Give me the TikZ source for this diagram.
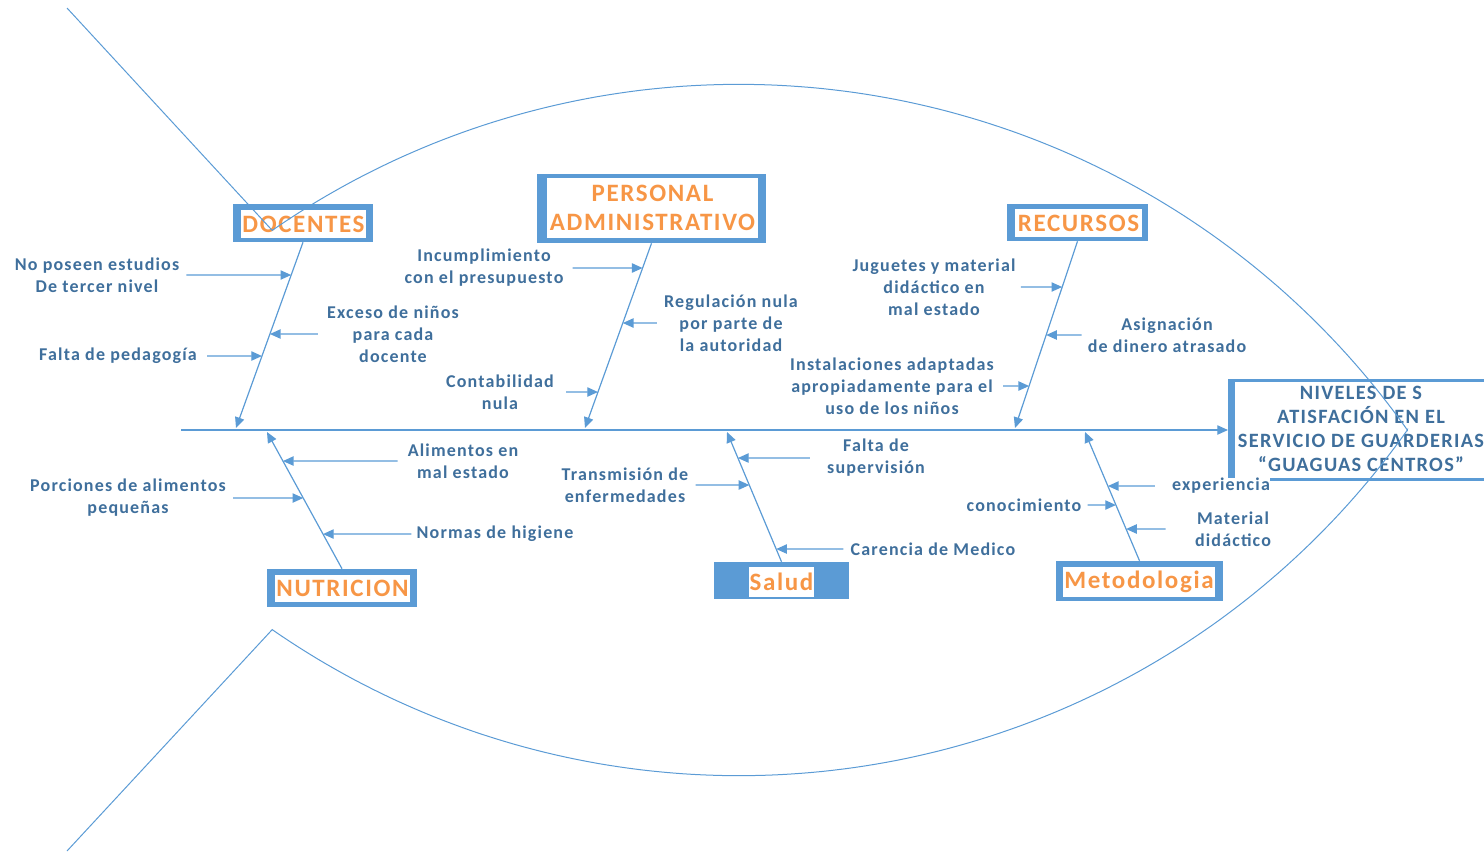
\documentclass[tikz,border=0pt]{standalone}
\usepackage{fontspec}
\newfontfamily\lblfont{Carlito}[LetterSpace=6.5]
\usetikzlibrary{arrows.meta}
\definecolor{lineblue}{HTML}{5B9BD5}
\definecolor{txtblue}{HTML}{3F6F9C}
\definecolor{ttlorange}{HTML}{F79646}
\begin{document}
\begin{tikzpicture}[x=0.75pt,y=-0.75pt,
  lbl/.style={font=\lblfont\bfseries\fontsize{13.5pt}{16.5pt}\selectfont,
    text=txtblue, align=center, fill=white, inner sep=0pt},
  headtxt/.style={font=\lblfont\bfseries\fontsize{15.25pt}{18pt}\selectfont,
    text=txtblue, align=center, inner sep=0pt},
  ttl/.style={font=\lblfont\bfseries\fontsize{18.75pt}{21.75pt}\selectfont,
    text=ttlorange, align=center, fill=white, inner sep=0pt},
  frame/.style={fill=lineblue, inner sep=0pt},
  box/.style n args={2}{minimum width=#1*0.75pt, minimum height=#2*0.75pt},
  bone/.style={draw=lineblue, line width=0.9pt, -{Triangle[length=8pt,width=7pt]}},
  cause/.style={draw=lineblue, line width=0.9pt, -{Triangle[length=8pt,width=7pt]}},
  spine/.style={draw=lineblue, line width=0.8pt, -{Triangle[length=8pt,width=7pt]}},
  fish/.style={draw=lineblue, line width=0.75pt}]
\useasboundingbox (0,0) rectangle (1484,851);
\clip (0,0) rectangle (1484,851);

% ---- head of the fish: the effect ----
\node[inner sep=0pt, box={256}{102}, anchor=west] (headF) at (1228,430) {};
\fill[white] (1228,379) rectangle (1484,481);
\fill[lineblue] (1228,379) rectangle (1235,481);
\fill[lineblue] (1228,379) rectangle (1484,382);
\fill[lineblue] (1228,478) rectangle (1484,481);
\node[headtxt] (head) at (1361,429)
  {NIVELES DE S\\ATISFACIÓN EN EL\\SERVICIO DE GUARDERIAS\\“GUAGUAS CENTROS”};

% ---- spine ----
\coordinate (tailS) at (181,430);
\draw[spine] (tailS) -- (headF.west);

% ---- category boxes ----
\node[frame, box={140}{38}] (docF) at (303,223) {};
\node[ttl, box={125}{28}] (doc) at (303.5,224) {DOCENTES};

\node[frame, box={229}{69}] (perF) at (651.5,208.5) {};
\node[ttl, box={211}{60}] (per) at (652.5,208) {PERSONAL\\ADMINISTRATIVO};

\node[frame, box={141}{37}] (recF) at (1077.5,222.5) {};
\node[ttl, box={127}{28}] (rec) at (1078.5,223) {RECURSOS};

\node[frame, box={150}{38}] (nutF) at (342,588) {};
\node[ttl, box={135}{27}] (nut) at (342.5,588.5) {NUTRICION};

\node[frame, box={135}{37}] (salF) at (781.5,580.5) {};
\node[ttl, box={65}{30}] (sal) at (781.5,582) {Salud};

\node[frame, box={167}{40}] (metF) at (1139.5,581) {};
\node[ttl, box={152}{30}] (met) at (1139,582) {Metodologia};

% ---- bones to the spine ----
\coordinate (docT) at (236,428);
\coordinate (perT) at (585,428);
\coordinate (recT) at (1015,428);
\coordinate (nutT) at (267,432);
\coordinate (salT) at (727,432);
\coordinate (metT) at (1085,432);
\draw[bone] (docF.south) -- (docT);
\draw[bone] (perF.south) -- (perT);
\draw[bone] (recF.south) -- (recT);
\draw[bone] (nutF.north) -- (nutT);
\draw[bone] (salF.north) -- (salT);
\draw[bone] (metF.north) -- (metT);

% ---- causes: DOCENTES ----
\node[lbl] (nA) at (97,275) {No poseen estudios\\De tercer nivel};
\node[lbl] (nB) at (393,334) {Exceso de niños\\para cada\\docente};
\node[lbl] (nC) at (118,356) {Falta de pedagogía};
\draw[cause] ([xshift=5.25pt]nA.east) -- (intersection of nA.west--nA.east and docF.south--docT);
\draw[cause] ([xshift=-6.75pt]nB.west) -- (intersection of nB.west--nB.east and docF.south--docT);
\draw[cause] ([xshift=7.5pt]nC.east) -- (intersection of nC.west--nC.east and docF.south--docT);

% ---- causes: PERSONAL ADMINISTRATIVO ----
\node[lbl] (pA) at (484,268) {Incumplimiento\\con el presupuesto};
\node[lbl] (pB) at (731,323) {Regulación nula\\por parte de\\la autoridad};
\node[lbl] (pC) at (500,392) {Contabilidad\\nula};
\draw[cause] ([xshift=6.75pt]pA.east) -- (intersection of pA.west--pA.east and perF.south--perT);
\draw[cause] ([xshift=-5.25pt]pB.west) -- (intersection of pB.west--pB.east and perF.south--perT);
\draw[cause] ([xshift=9pt]pC.east) -- (intersection of pC.west--pC.east and perF.south--perT);

% ---- causes: RECURSOS ----
\node[lbl] (rA) at (934,287) {Juguetes y material\\didáctico en\\mal estado};
\node[lbl] (rB) at (1167,335) {Asignación\\de dinero atrasado};
\node[lbl] (rC) at (892,386) {Instalaciones adaptadas\\apropiadamente para el\\uso de los niños};
\draw[cause] ([xshift=3.75pt]rA.east) -- (intersection of rA.west--rA.east and recF.south--recT);
\draw[cause] ([xshift=-4.5pt]rB.west) -- (intersection of rB.west--rB.east and recF.south--recT);
\draw[cause] ([xshift=6.75pt]rC.east) -- (intersection of rC.west--rC.east and recF.south--recT);

% ---- causes: NUTRICION ----
\node[lbl] (uA) at (463,461) {Alimentos en\\mal estado};
\node[lbl] (uB) at (128,498) {Porciones de alimentos\\pequeñas};
\node[lbl] (uC) at (495,534) {Normas de higiene};
\draw[cause] ([xshift=-7.5pt]uA.west) -- (intersection of uA.west--uA.east and nutF.north--nutT);
\draw[cause] ([xshift=5.25pt]uB.east) -- (intersection of uB.west--uB.east and nutF.north--nutT);
\draw[cause] ([xshift=-3.75pt]uC.west) -- (intersection of uC.west--uC.east and nutF.north--nutT);

% ---- causes: Salud ----
\node[lbl] (sA) at (876,458) {Falta de\\supervisión};
\node[lbl] (sB) at (625,485) {Transmisión de\\enfermedades};
\node[lbl] (sC) at (933,549) {Carencia de Medico};
\draw[cause] ([xshift=-12.75pt]sA.west) -- (intersection of sA.west--sA.east and salF.north--salT);
\draw[cause] ([xshift=5.25pt]sB.east) -- (intersection of sB.west--sB.east and salF.north--salT);
\draw[cause] ([xshift=-5.25pt]sC.west) -- (intersection of sC.west--sC.east and salF.north--salT);

% ---- causes: Metodologia ----
\node[lbl] (mA) at (1221,486) {experiencia};
\node[lbl] (mB) at (1024,505) {conocimiento};
\node[lbl] (mC) at (1233,529) {Material\\didáctico};
\draw[cause] ([xshift=-12.75pt]mA.west) -- (intersection of mA.west--mA.east and metF.north--metT);
\draw[cause] ([xshift=4.5pt]mB.east) -- (intersection of mB.west--mB.east and metF.north--metT);
\draw[cause] ([xshift=-21.75pt]mC.west) -- (intersection of mC.west--mC.east and metF.north--metT);

% ---- fish outline: tail strokes and the two arcs of the body ----
\draw[fish] (67,8)
  -- plot[domain=124.75:35.3, samples=120] ({739+819*cos(\x)}, {903.3-819*sin(\x)})
  -- plot[domain=35.3:124.75, samples=120] ({739+819*cos(\x)}, {-43.3+819*sin(\x)})
  -- (67,851);
\end{tikzpicture}
\end{document}
